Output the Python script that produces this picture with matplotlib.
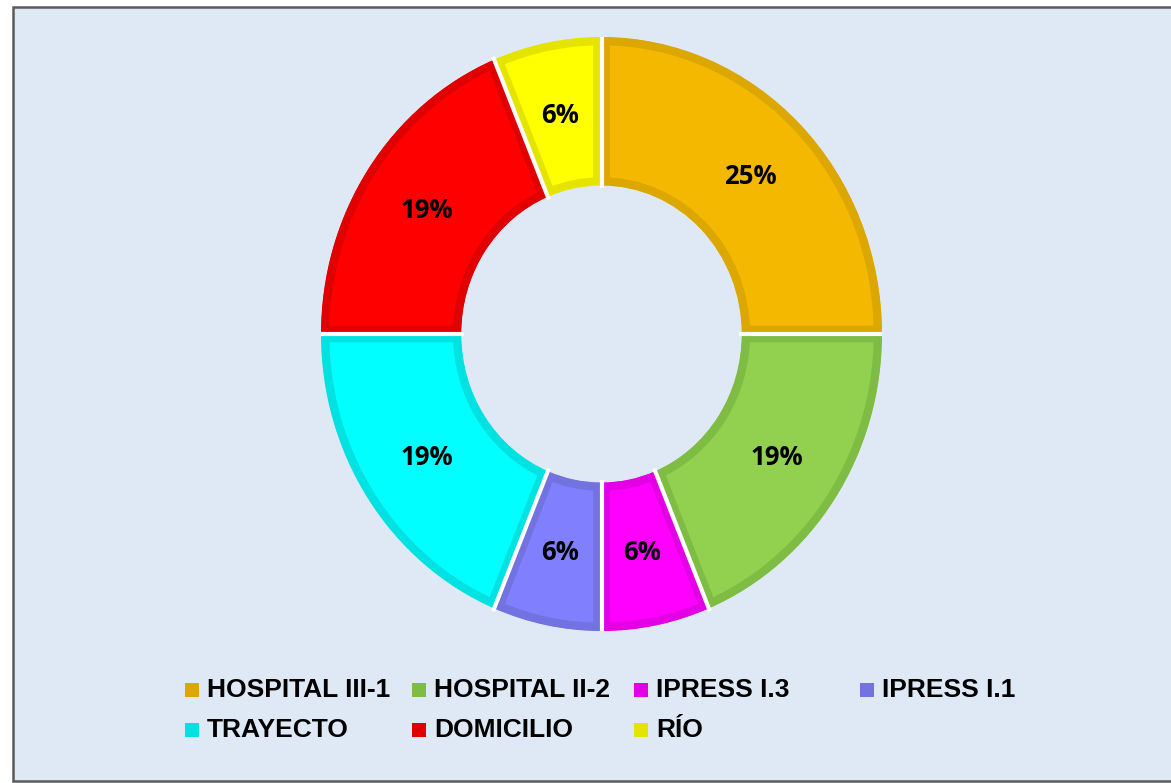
import numpy as np
import matplotlib
matplotlib.use("Agg")
import matplotlib.pyplot as plt
from matplotlib.patches import Rectangle

# data
labels = ["HOSPITAL III-1", "HOSPITAL II-2", "IPRESS I.3", "IPRESS I.1",
          "TRAYECTO", "DOMICILIO", "RÍO"]
counts = [4, 3, 1, 1, 3, 3, 1]
face_colors = ["#F4B800", "#92D050", "#FF00FF", "#8080FF", "#00FFFF", "#FF0000", "#FFFF00"]
edge_colors = ["#DCA700", "#7EBC44", "#E400E4", "#7272E0", "#00E2E2", "#E00000", "#E4E400"]

W, H = 1171, 783
bg = "#DEE9F5"

fig = plt.figure(figsize=(W / 100, H / 100), dpi=100)
fig.patch.set_facecolor("white")

# chart area frame
fig.patches.append(Rectangle((13 / W, 2 / H), (W + 20) / W, (H - 9) / H,
                             transform=fig.transFigure, facecolor=bg,
                             edgecolor="#5A5A5A", linewidth=1.8, zorder=-5))

ax = fig.add_axes([321 / W, (H - 631) / H, 561 / W, 594 / H])
ax.set_zorder(2)
wedges, texts, autotexts = ax.pie(
    counts, startangle=90, counterclock=False, radius=1.0,
    wedgeprops=dict(width=0.5, linewidth=12),
    autopct="%.0f%%", pctdistance=0.75,
    textprops=dict(fontsize=18.5, fontweight="bold", fontstyle="normal",
                   family=["Open Sans", "DejaVu Sans"], color="black"))
ax.set_aspect("auto")
ax.set_xlim(-1, 1)
ax.set_ylim(-1, 1)
ax.axis("off")

# darker inner outline: stroke clipped to the wedge itself
for w, fc, ec in zip(wedges, face_colors, edge_colors):
    w.set_facecolor(fc)
    w.set_edgecolor(ec)
    w.set_clip_on(True)
    w.set_clip_path(w.get_path(), w.get_transform())
for t in texts:
    t.set_visible(False)

# white separators between slices
bounds = np.cumsum([0] + counts) / sum(counts)
for b in bounds[:-1]:
    th = np.deg2rad(90 - 360 * b)
    ax.plot([0.49 * np.cos(th), 1.01 * np.cos(th)], [0.49 * np.sin(th), 1.01 * np.sin(th)],
            color="white", lw=3, solid_capstyle="butt", zorder=5)

# legend (manual, 4 columns)
col_x = [185, 412, 634, 860]
row_y = [690, 730]
for i, (lab, ec) in enumerate(zip(labels, edge_colors)):
    x = col_x[i % 4]
    y = row_y[i // 4]
    fig.patches.append(Rectangle((x / W, (H - y - 7) / H), 14 / W, 14 / H,
                                 transform=fig.transFigure, facecolor=ec,
                                 edgecolor="none", zorder=3))
    fig.text((x + 22) / W, (H - y) / H, lab, ha="left", va="center",
             fontsize=19, fontweight="bold", family="Liberation Sans", color="black")

fig.savefig("out.png", dpi=100, facecolor=fig.get_facecolor())
